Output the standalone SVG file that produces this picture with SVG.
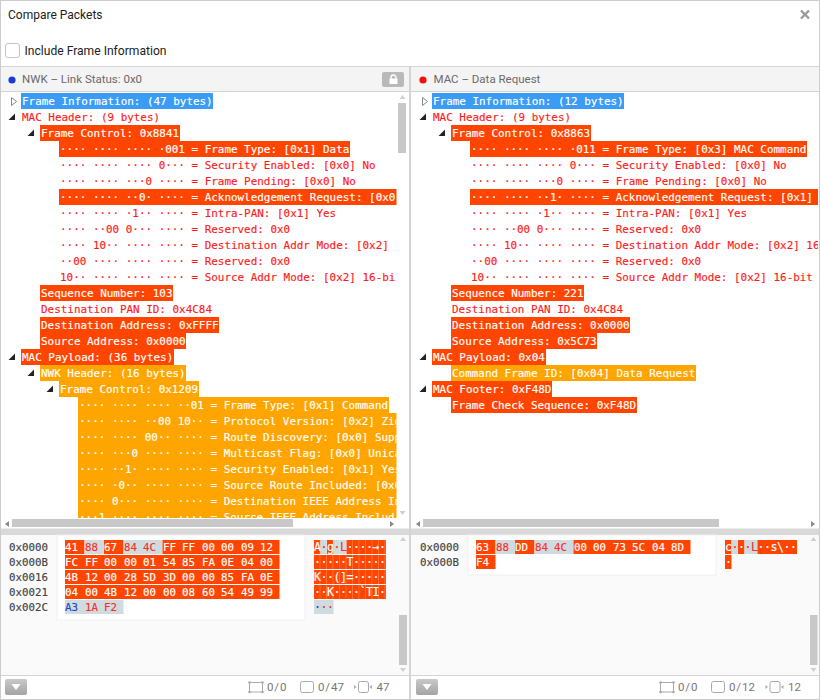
<svg xmlns="http://www.w3.org/2000/svg" width="820" height="700" viewBox="0 0 820 700">
<style>
.ui{font-family:"Roboto","Liberation Sans",sans-serif}
.t{font-family:"DejaVu Sans Mono","Liberation Mono",monospace;font-size:10.93px;dominant-baseline:central;stroke-width:.15px}
.h{font-family:"DejaVu Sans Mono","Liberation Mono",monospace;font-size:10.8px;dominant-baseline:central;stroke-width:.15px}
.asc{font-size:11.6px;letter-spacing:-.48px}
.r{fill:#ff1a1a;stroke:#ff1a1a}.w{fill:#fff;stroke:#fff}
.a{fill:#ff4500}.o{fill:#ffa500}.b{fill:#3a9cf5}.g{fill:#cfdcdf}
.tri{fill:#222}.col{fill:#fff;stroke:#888;stroke-width:1}
.sb{fill:#c8c8c8}.ar{fill:#d0d0d0}.ar2{fill:#888}.ft{fill:#777;font-size:11.5px;word-spacing:-2px;font-family:"Roboto","Liberation Sans",sans-serif}
.off{fill:#444;stroke:#444}.rx{fill:#ff2a2a;stroke:#ff2a2a}.bl{fill:#2244cc;stroke:#2244cc}
</style>
<defs>
<clipPath id="cl"><rect x="0" y="93" width="396.500" height="425"/></clipPath>
<clipPath id="cr"><rect x="411" y="93" width="407" height="425"/></clipPath>
<pattern id="cells" width="6.500" height="14" patternUnits="userSpaceOnUse" x="1"><rect x="0" width="0.600" height="14" fill="#fff" fill-opacity="0.35"/></pattern>
<linearGradient id="btn" x1="0" y1="0" x2="0" y2="1"><stop offset="0" stop-color="#c9c9c9"/><stop offset="1" stop-color="#a4a4a4"/></linearGradient>
<g id="boxi"><rect x="1.500" y="1.500" width="13" height="9.500" fill="#fff" stroke="#aaa"/><g fill="#aaa"><circle cx="1.500" cy="1.500" r="1.300"/><circle cx="14.500" cy="1.500" r="1.300"/><circle cx="1.500" cy="11" r="1.300"/><circle cx="14.500" cy="11" r="1.300"/></g></g>
<g id="pagei"><rect x="0.500" y="0.500" width="13" height="11" rx="2" fill="#fff" stroke="#aaa"/></g>
<g id="vidi"><rect x="4.500" y="0.500" width="10" height="11" rx="2" fill="#fff" stroke="#aaa"/><path d="M0 4l2.500 2L0 8zM18 4l-2.500 2L18 8z" fill="#aaa"/></g>
</defs>
<rect width="820" height="700" fill="#fff"/>
<g id="window">
<text class="ui" x="8" y="18.500" font-size="12" fill="#222">Compare Packets</text>
<path d="M801 10.500l8 8m0-8l-8 8" stroke="#999" stroke-width="2.400" fill="none"/>
<rect x="5.500" y="43.500" width="14" height="14" rx="2.500" fill="#fff" stroke="#c4c4c4"/>
<text class="ui" x="24.500" y="55" font-size="12.100" fill="#222">Include Frame Information</text>
</g>
<g id="left-header">
<rect x="1" y="67" width="408" height="24" fill="#f4f4f4"/>
<path d="M1 66.500H409M1 91.500H409" stroke="#d4d4d4"/>
<circle cx="12" cy="80" r="3.600" fill="#1a3fd0"/>
<text class="ui" x="22" y="83" font-size="11.500" fill="#6a6a6a">NWK – Link Status: 0x0</text>
<rect x="382" y="72" width="22" height="15" rx="2" fill="#b9b9b9"/>
<rect x="389.500" y="78.500" width="8" height="5.500" fill="#fff"/>
<path d="M391 79v-1.500a2.500 2.500 0 0 1 5 0V79" fill="none" stroke="#fff" stroke-width="1.300"/>
</g>
<g id="right-header">
<rect x="411" y="67" width="408" height="24" fill="#f4f4f4"/>
<path d="M411 66.500H819M411 91.500H819" stroke="#d4d4d4"/>
<circle cx="423" cy="80" r="3.600" fill="#f01010"/>
<text class="ui" x="433.500" y="83" font-size="11.500" fill="#6a6a6a">MAC – Data Request</text>
</g>
<g id="left-tree" clip-path="url(#cl)">
<rect class="b" x="21" y="93" width="192" height="16"/>
<rect class="a" x="40" y="125" width="140" height="16"/>
<rect class="a" x="59" y="141" width="291" height="16"/>
<rect class="a" x="59" y="189" width="338" height="16"/>
<rect class="a" x="40" y="285" width="133" height="16"/>
<rect class="a" x="40" y="317" width="179" height="16"/>
<rect class="a" x="40" y="333" width="146" height="16"/>
<rect class="a" x="21" y="349" width="153" height="16"/>
<rect class="o" x="40" y="365" width="146" height="16"/>
<rect class="o" x="59" y="381" width="140" height="16"/>
<rect class="o" x="78" y="397" width="311" height="16"/>
<rect class="o" x="78" y="413" width="319" height="105"/>
<g class="t">
<text class="w" x="22" y="101">Frame Information: (47 bytes)</text>
<text class="r" x="22" y="117">MAC Header: (9 bytes)</text>
<text class="w" x="41" y="133">Frame Control: 0x8841</text>
<text class="w" x="60" y="149">···· ···· ···· ·001 = Frame Type: [0x1] Data</text>
<text class="r" x="60" y="165">···· ···· ···· 0··· = Security Enabled: [0x0] No</text>
<text class="r" x="60" y="181">···· ···· ···0 ···· = Frame Pending: [0x0] No</text>
<text class="w" x="60" y="197">···· ···· ··0· ···· = Acknowledgement Request: [0x0</text>
<text class="r" x="60" y="213">···· ···· ·1·· ···· = Intra-PAN: [0x1] Yes</text>
<text class="r" x="60" y="229">···· ··00 0··· ···· = Reserved: 0x0</text>
<text class="r" x="60" y="245">···· 10·· ···· ···· = Destination Addr Mode: [0x2]</text>
<text class="r" x="60" y="261">··00 ···· ···· ···· = Reserved: 0x0</text>
<text class="r" x="60" y="277">10·· ···· ···· ···· = Source Addr Mode: [0x2] 16-bi</text>
<text class="w" x="41" y="293">Sequence Number: 103</text>
<text class="r" x="41" y="309">Destination PAN ID: 0x4C84</text>
<text class="w" x="41" y="325">Destination Address: 0xFFFF</text>
<text class="w" x="41" y="341">Source Address: 0x0000</text>
<text class="w" x="22" y="357">MAC Payload: (36 bytes)</text>
<text class="w" x="41" y="373">NWK Header: (16 bytes)</text>
<text class="w" x="60" y="389">Frame Control: 0x1209</text>
<text class="w" x="79" y="405">···· ···· ···· ··01 = Frame Type: [0x1] Command</text>
<text class="w" x="79" y="421">···· ···· ··00 10·· = Protocol Version: [0x2] Zig</text>
<text class="w" x="79" y="437">···· ···· 00·· ···· = Route Discovery: [0x0] Supp</text>
<text class="w" x="79" y="453">···· ···0 ···· ···· = Multicast Flag: [0x0] Unica</text>
<text class="w" x="79" y="469">···· ··1· ···· ···· = Security Enabled: [0x1] Yes</text>
<text class="w" x="79" y="485">···· ·0·· ···· ···· = Source Route Included: [0x0</text>
<text class="w" x="79" y="501">···· 0··· ···· ···· = Destination IEEE Address In</text>
<text class="w" x="79" y="517">···1 ···· ···· ···· = Source IEEE Address Includ</text>
</g>
<path class="col" d="M11.500 97.500l5 4-5 4z"/>
<path class="tri" d="M15 113.500v6.500h-6.500zM34 129.500v6.500h-6.500zM15 353.500v6.500h-6.500zM34 369.500v6.500h-6.500zM53 385.500v6.500h-6.500z"/>
</g>
<g id="left-scrollbars">
<path class="ar" d="M402.500 95l3 4h-6zM402.500 515l3-4h-6z"/>
<path class="ar2" d="M5 524l4-3v6zM394 524l-4-3v6z"/>
<rect class="sb" x="398" y="103" width="8" height="50"/>
<rect class="sb" x="12" y="519" width="281" height="8"/>
</g>
<g id="right-tree" clip-path="url(#cr)">
<rect class="b" x="432" y="93" width="192" height="16"/>
<rect class="a" x="451" y="125" width="140" height="16"/>
<rect class="a" x="470" y="141" width="337" height="16"/>
<rect class="a" x="470" y="189" width="348" height="16"/>
<rect class="a" x="451" y="285" width="133" height="16"/>
<rect class="a" x="451" y="317" width="179" height="16"/>
<rect class="a" x="451" y="333" width="146" height="16"/>
<rect class="a" x="432" y="349" width="114" height="16"/>
<rect class="o" x="451" y="365" width="245" height="16"/>
<rect class="a" x="432" y="381" width="120" height="16"/>
<rect class="a" x="451" y="397" width="186" height="16"/>
<g class="t">
<text class="w" x="433" y="101">Frame Information: (12 bytes)</text>
<text class="r" x="433" y="117">MAC Header: (9 bytes)</text>
<text class="w" x="452" y="133">Frame Control: 0x8863</text>
<text class="w" x="471" y="149">···· ···· ···· ·011 = Frame Type: [0x3] MAC Command</text>
<text class="r" x="471" y="165">···· ···· ···· 0··· = Security Enabled: [0x0] No</text>
<text class="r" x="471" y="181">···· ···· ···0 ···· = Frame Pending: [0x0] No</text>
<text class="w" x="471" y="197">···· ···· ··1· ···· = Acknowledgement Request: [0x1]</text>
<text class="r" x="471" y="213">···· ···· ·1·· ···· = Intra-PAN: [0x1] Yes</text>
<text class="r" x="471" y="229">···· ··00 0··· ···· = Reserved: 0x0</text>
<text class="r" x="471" y="245">···· 10·· ···· ···· = Destination Addr Mode: [0x2] 16</text>
<text class="r" x="471" y="261">··00 ···· ···· ···· = Reserved: 0x0</text>
<text class="r" x="471" y="277">10·· ···· ···· ···· = Source Addr Mode: [0x2] 16-bit</text>
<text class="w" x="452" y="293">Sequence Number: 221</text>
<text class="r" x="452" y="309">Destination PAN ID: 0x4C84</text>
<text class="w" x="452" y="325">Destination Address: 0x0000</text>
<text class="w" x="452" y="341">Source Address: 0x5C73</text>
<text class="w" x="433" y="357">MAC Payload: 0x04</text>
<text class="w" x="452" y="373">Command Frame ID: [0x04] Data Request</text>
<text class="w" x="433" y="389">MAC Footer: 0xF48D</text>
<text class="w" x="452" y="405">Frame Check Sequence: 0xF48D</text>
</g>
<path class="col" d="M422.500 97.500l5 4-5 4z"/>
<path class="tri" d="M426 113.500v6.500h-6.500zM445 129.500v6.500h-6.500zM426 353.500v6.500h-6.500zM426 385.500v6.500h-6.500z"/>
</g>
<g id="right-scrollbars">
<path class="ar2" d="M416 524l4-3v6zM815 524l-4-3v6z"/>
<rect class="sb" x="423" y="519" width="296" height="8"/>
</g>
<g id="dividers">
<rect x="1" y="528.500" width="818" height="6.500" fill="#d9d9d9"/>
<rect x="409" y="66" width="2" height="634" fill="#d4d4d4"/>
<path d="M0 .5H820M.5 0V700M819.500 0V700M0 699.500H820" stroke="#ccc" fill="none"/>
</g>
<g id="left-hex">
<rect x="1" y="535" width="408" height="140" fill="#fafafa"/>
<rect x="57" y="535" width="248" height="85" fill="#fff" stroke="#f0f0f0"/>
<rect class="a" x="65" y="540" width="19.500" height="14"/><rect class="g" x="84.500" y="540" width="19.500" height="14"/><rect class="a" x="104" y="540" width="19.500" height="14"/><rect class="g" x="123.500" y="540" width="39" height="14"/><rect class="a" x="162.500" y="540" width="117" height="14"/>
<rect class="a" x="65" y="555" width="214.500" height="14"/>
<rect class="a" x="65" y="570" width="214.500" height="14"/>
<rect class="a" x="65" y="585" width="214.500" height="14"/>
<rect class="g" x="65" y="600" width="58.500" height="14"/>
<rect class="a" x="314" y="540" width="6.500" height="14"/><rect class="g" x="320.500" y="540" width="6.500" height="14"/><rect class="a" x="327" y="540" width="6.500" height="14"/><rect class="g" x="333.500" y="540" width="13" height="14"/><rect class="a" x="346.500" y="540" width="39.500" height="14"/>
<rect class="a" x="314" y="555" width="72" height="14"/><rect class="a" x="314" y="570" width="72" height="14"/><rect class="a" x="314" y="585" width="72" height="14"/>
<rect class="g" x="314" y="600" width="19.500" height="14"/>
<rect x="314" y="540" width="72" height="59" fill="url(#cells)"/>
<g class="h off">
<text x="9" y="547">0x0000</text><text x="9" y="562">0x000B</text><text x="9" y="577">0x0016</text><text x="9" y="592">0x0021</text><text x="9" y="607">0x002C</text>
</g>
<g class="h w">
<text x="65" y="547">41</text><text class="rx" x="85" y="547">88</text><text x="104" y="547">67</text><text class="rx" x="124" y="547">84</text><text class="rx" x="143" y="547">4C</text><text x="163" y="547">FF</text><text x="182" y="547">FF</text><text x="202" y="547">00</text><text x="221" y="547">00</text><text x="241" y="547">09</text><text x="260" y="547">12</text>
<text x="65" y="562">FC</text><text x="85" y="562">FF</text><text x="104" y="562">00</text><text x="124" y="562">00</text><text x="143" y="562">01</text><text x="163" y="562">54</text><text x="182" y="562">85</text><text x="202" y="562">FA</text><text x="221" y="562">0E</text><text x="241" y="562">04</text><text x="260" y="562">00</text>
<text x="65" y="577">4B</text><text x="85" y="577">12</text><text x="104" y="577">00</text><text x="124" y="577">28</text><text x="143" y="577">5D</text><text x="163" y="577">3D</text><text x="182" y="577">00</text><text x="202" y="577">00</text><text x="221" y="577">85</text><text x="241" y="577">FA</text><text x="260" y="577">0E</text>
<text x="65" y="592">04</text><text x="85" y="592">00</text><text x="104" y="592">4B</text><text x="124" y="592">12</text><text x="143" y="592">00</text><text x="163" y="592">00</text><text x="182" y="592">08</text><text x="202" y="592">60</text><text x="221" y="592">54</text><text x="241" y="592">49</text><text x="260" y="592">99</text>
<text class="bl" x="65" y="607">A3</text><text class="rx" x="85" y="607">1A</text><text class="rx" x="104" y="607">F2</text>
</g>
<g class="h asc w">
<text x="314" y="547">A</text><text class="rx" x="320.500" y="547">·</text><text x="327" y="547">g</text><text class="rx" x="333.500" y="547">·L</text><text x="346.500" y="547">····→·</text>
<text x="314" y="562">·····T·····</text><text x="314" y="577">K··(]=·····</text><text x="314" y="592">··K····`TI·</text>
<text class="bl" x="314" y="607">·</text><text class="rx" x="320.500" y="607">··</text>
</g>
<path class="ar" d="M403 537l3 4h-6zM403 672l3-4h-6z"/>
<rect class="sb" x="399" y="615" width="8" height="50"/>
</g>
<g id="right-hex">
<rect x="411" y="535" width="408" height="140" fill="#fafafa"/>
<rect x="468" y="535" width="248" height="40" fill="#fff" stroke="#f0f0f0"/>
<rect class="a" x="476" y="540" width="19.500" height="14"/><rect class="g" x="495.500" y="540" width="19.500" height="14"/><rect class="a" x="515" y="540" width="19.500" height="14"/><rect class="g" x="534.500" y="540" width="39" height="14"/><rect class="a" x="573.500" y="540" width="117" height="14"/>
<rect class="a" x="476" y="555" width="19.500" height="14"/>
<rect class="a" x="725" y="540" width="6.500" height="14"/><rect class="g" x="731.500" y="540" width="6.500" height="14"/><rect class="a" x="738" y="540" width="6.500" height="14"/><rect class="g" x="744.500" y="540" width="13" height="14"/><rect class="a" x="757.500" y="540" width="39.500" height="14"/>
<rect class="a" x="725" y="555" width="6.500" height="14"/>
<g class="h off"><text x="420" y="547">0x0000</text><text x="420" y="562">0x000B</text></g>
<g class="h w">
<text x="476" y="547">63</text><text class="rx" x="496" y="547">88</text><text x="515" y="547">DD</text><text class="rx" x="535" y="547">84</text><text class="rx" x="554" y="547">4C</text><text x="574" y="547">00</text><text x="593" y="547">00</text><text x="613" y="547">73</text><text x="632" y="547">5C</text><text x="652" y="547">04</text><text x="671" y="547">8D</text>
<text x="476" y="562">F4</text>
</g>
<g class="h asc w">
<text x="725" y="547">c</text><text class="rx" x="731.500" y="547">·</text><text x="738" y="547">·</text><text class="rx" x="744.500" y="547">·L</text><text x="757.500" y="547">··s\··</text>
<text x="725" y="562">·</text>
</g>
<path class="ar" d="M813.500 537l3 4h-6zM813.500 672l3-4h-6z"/>
<rect class="sb" x="810" y="615" width="7.500" height="50"/>
</g>
<g id="left-footer">
<path d="M1 675.500H409" stroke="#d4d4d4"/>
<rect x="5" y="679" width="22" height="16" rx="2" fill="url(#btn)"/>
<path d="M11.500 684h9l-4.500 6z" fill="#fff"/>
<use href="#boxi" x="248" y="681"/><text class="ft" x="267" y="691">0 / 0</text>
<use href="#pagei" x="300" y="681"/><text class="ft" x="318" y="691">0 / 47</text>
<use href="#vidi" x="354" y="681"/><text class="ft" x="376.500" y="691">47</text>
</g>
<g id="right-footer">
<path d="M411 675.500H819" stroke="#d4d4d4"/>
<rect x="416" y="679" width="22" height="16" rx="2" fill="url(#btn)"/>
<path d="M422.500 684h9l-4.500 6z" fill="#fff"/>
<use href="#boxi" x="659" y="681"/><text class="ft" x="678" y="691">0 / 0</text>
<use href="#pagei" x="711" y="681"/><text class="ft" x="729" y="691">0 / 12</text>
<use href="#vidi" x="765.500" y="681"/><text class="ft" x="788" y="691">12</text>
</g>
</svg>
